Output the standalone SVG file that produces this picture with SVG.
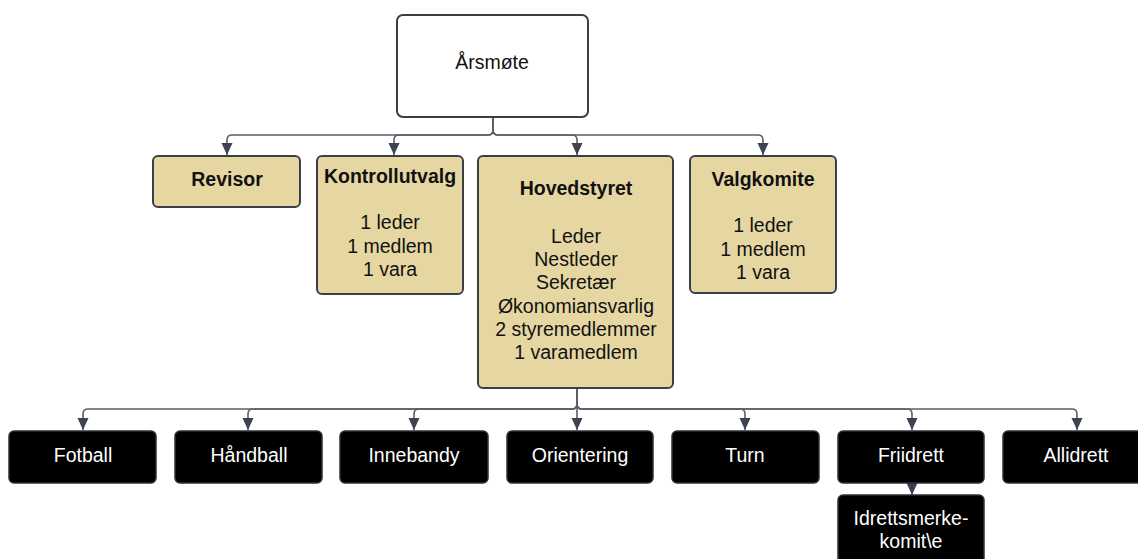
<svg xmlns="http://www.w3.org/2000/svg" width="1138" height="559" viewBox="0 0 1138 559">
<style>
.tan{fill:#E6D7A2;stroke:#3a3e46;stroke-width:2}
.blk{fill:#000;stroke:#2e3035;stroke-width:1.5}
.top{fill:#fff;stroke:#3a3e46;stroke-width:2}
text{font-family:"Liberation Sans",Arial,sans-serif;font-size:19.5px;text-anchor:middle;fill:#111}
.b{font-weight:bold}
.w{fill:#fff}
.con{fill:none;stroke:#5b6068;stroke-width:1.6}
</style>
<defs>
<marker id="ah" markerUnits="userSpaceOnUse" markerWidth="12" markerHeight="12" refX="12" refY="5.5" orient="auto">
<path d="M0,0 L12,5.5 L0,11 z" fill="#3d4350"/>
</marker>
</defs>
<rect width="1138" height="559" fill="#fff"/>
<g id="connectors">
<path class="con" marker-end="url(#ah)" d="M493,117 V130 Q493,135 488,135 H232 Q227,135 227,140 V155"/>
<path class="con" marker-end="url(#ah)" d="M493,117 V130 Q493,135 488,135 H399 Q394,135 394,140 V155"/>
<path class="con" marker-end="url(#ah)" d="M493,117 V130 Q493,135 498,135 H572 Q577,135 577,140 V155"/>
<path class="con" marker-end="url(#ah)" d="M493,117 V130 Q493,135 498,135 H758 Q763,135 763,140 V155"/>
<path class="con" marker-end="url(#ah)" d="M577,388 V404 Q577,409 572,409 H88 Q83,409 83,414 V430"/>
<path class="con" marker-end="url(#ah)" d="M577,388 V404 Q577,409 572,409 H253 Q248,409 248,414 V430"/>
<path class="con" marker-end="url(#ah)" d="M577,388 V404 Q577,409 572,409 H419 Q414,409 414,414 V430"/>
<path class="con" marker-end="url(#ah)" d="M577,388 V430"/>
<path class="con" marker-end="url(#ah)" d="M577,388 V404 Q577,409 582,409 H740 Q745,409 745,414 V430"/>
<path class="con" marker-end="url(#ah)" d="M577,388 V404 Q577,409 582,409 H907 Q912,409 912,414 V430"/>
<path class="con" marker-end="url(#ah)" d="M577,388 V404 Q577,409 582,409 H1072 Q1077,409 1077,414 V430"/>
<path class="con" marker-end="url(#ah)" d="M912,482 V495"/>
</g>
<g id="arsmote">
<rect class="top" x="397" y="15" width="191" height="102" rx="6"/>
<text x="492" y="69">Årsmøte</text>
</g>
<g id="revisor">
<rect class="tan" x="153" y="156" width="147" height="51" rx="5"/>
<text class="b" x="227" y="186">Revisor</text>
</g>
<g id="kontrollutvalg">
<rect class="tan" x="317" y="156" width="146" height="138" rx="5"/>
<text class="b" x="390" y="183">Kontrollutvalg</text>
<text x="390" y="229">1 leder</text>
<text x="390" y="253">1 medlem</text>
<text x="390" y="276">1 vara</text>
</g>
<g id="hovedstyret">
<rect class="tan" x="478" y="156" width="195" height="232" rx="5"/>
<text class="b" x="576" y="195">Hovedstyret</text>
<text x="576" y="243">Leder</text>
<text x="576" y="266">Nestleder</text>
<text x="576" y="289">Sekretær</text>
<text x="576" y="313">Økonomiansvarlig</text>
<text x="576" y="336">2 styremedlemmer</text>
<text x="576" y="359">1 varamedlem</text>
</g>
<g id="valgkomite">
<rect class="tan" x="690" y="156" width="146" height="137" rx="5"/>
<text class="b" x="763" y="186">Valgkomite</text>
<text x="763" y="232">1 leder</text>
<text x="763" y="256">1 medlem</text>
<text x="763" y="279">1 vara</text>
</g>
<g id="fotball">
<rect class="blk" x="9" y="431" width="147" height="52" rx="5"/>
<text class="w" x="83" y="462">Fotball</text>
</g>
<g id="handball">
<rect class="blk" x="175" y="431" width="147" height="52" rx="5"/>
<text class="w" x="249" y="462">Håndball</text>
</g>
<g id="innebandy">
<rect class="blk" x="340" y="431" width="148" height="52" rx="5"/>
<text class="w" x="414" y="462">Innebandy</text>
</g>
<g id="orientering">
<rect class="blk" x="507" y="431" width="146" height="52" rx="5"/>
<text class="w" x="580" y="462">Orientering</text>
</g>
<g id="turn">
<rect class="blk" x="672" y="431" width="147" height="52" rx="5"/>
<text class="w" x="745" y="462">Turn</text>
</g>
<g id="friidrett">
<rect class="blk" x="838" y="431" width="146" height="52" rx="5"/>
<text class="w" x="911" y="462">Friidrett</text>
</g>
<g id="allidrett">
<rect class="blk" x="1003" y="431" width="147" height="52" rx="5"/>
<text class="w" x="1076" y="462">Allidrett</text>
</g>
<g id="idrettsmerkekomite">
<rect class="blk" x="838" y="495" width="146" height="75" rx="5"/>
<text class="w" x="911" y="525">Idrettsmerke-</text>
<text class="w" x="911" y="548">komit\e</text>
</g>
</svg>
